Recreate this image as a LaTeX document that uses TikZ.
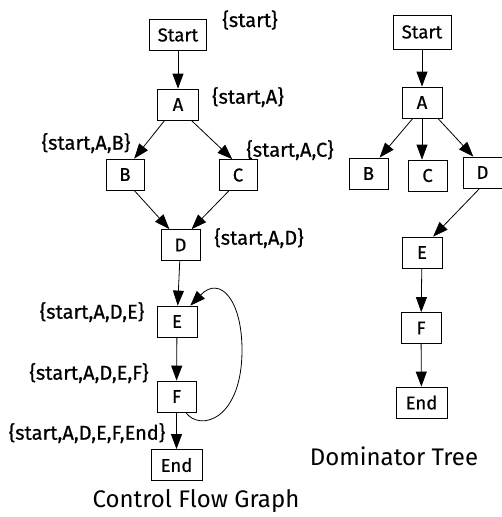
\documentclass[tikz,border=0pt]{standalone}
\usepackage{fontspec}
\setmainfont{Fira Sans}
\newfontfamily\medfont{Fira Sans}[FakeBold=0.6]
\usetikzlibrary{arrows.meta}
\begin{document}
\begin{tikzpicture}[x=1pt,y=-1pt,
  box/.style={draw,line width=0.8pt,minimum width=39pt,minimum height=31pt,inner sep=0pt,font=\medfont\fontsize{18.5}{22}\selectfont},
  lab/.style={inner sep=0pt,font=\medfont\fontsize{20}{24}\selectfont},
  captxt/.style={inner sep=0pt,font=\fontsize{24}{28}\selectfont},
  arr/.style={line width=0.8pt,-{Triangle[length=15pt,width=11pt]}}]
\useasboundingbox (0,0) rectangle (502,517);
% Control flow graph
\node[box,minimum width=57pt] (s) at (178,35) {Start};
\node[box,minimum width=41pt] (a) at (178,104.5) {A};
\node[box,minimum width=38pt] (b) at (125,174.5) {B};
\node[box,minimum width=38pt] (c) at (238,175) {C};
\node[box] (d) at (180.5,245) {D};
\node[box,minimum width=40pt] (e) at (177,321.5) {E};
\node[box] (f) at (176.5,396.5) {F};
\node[box,minimum width=51pt] (end) at (176.5,465) {End};
\node[lab] (ls) at (250,20) {\{start\}};
\node[lab] (la) at (248,97) {\{start,A\}};
\node[lab] (lb) at (86,143) {\{start,A,B\}};
\node[lab] (lc) at (290,150) {\{start,A,C\}};
\node[lab] (ld) at (259,238) {\{start,A,D\}};
\node[lab] (le) at (92,312) {\{start,A,D,E\}};
\node[lab] (lf) at (89,373) {\{start,A,D,E,F\}};
\node[lab] (lend) at (87,433) {\{start,A,D,E,F,End\}};
\node[captxt] (cfg) at (196,501) {Control Flow Graph};
\draw[arr] (s) -- (a);
\draw[arr] (a.-130) -- (b.60);
\draw[arr] (a.-50) -- (c.110);
\draw[arr] (b.-60) -- (d.125);
\draw[arr] (c.-120) -- (d.55);
\draw[arr] (d) -- (e);
\draw[arr] (e) -- (f);
\draw[arr] (f) -- (end);
\draw[arr] (f.-60) .. controls (200,432) and (242,420) .. (242,350)
  .. controls (242,300) and (220,275) .. (e.50);
% Dominator tree
\node[box,minimum width=58pt,minimum height=34pt] (ds) at (422,32) {Start};
\node[box,minimum width=40pt] (da) at (422,102.5) {A};
\node[box] (db) at (368.5,173.5) {B};
\node[box] (dc) at (427.5,175.5) {C};
\node[box] (dd) at (482.5,172.5) {D};
\node[box,minimum width=40pt] (de) at (422,252.5) {E};
\node[box,minimum width=40pt] (df) at (421,328) {F};
\node[box,minimum width=51pt] (dend) at (421.5,402.5) {End};
\node[captxt] (dt) at (394,456) {Dominator Tree};
\draw[arr] (ds) -- (da);
\draw[arr] (da.-120) -- (db.55);
\draw[arr] (da.south) -- (da.south |- dc.north);
\draw[arr] (da.-45) -- (dd.120);
\draw[arr] (dd.-100) -- (de.55);
\draw[arr] (de) -- (df);
\draw[arr] (df) -- (dend);
\end{tikzpicture}
\end{document}
